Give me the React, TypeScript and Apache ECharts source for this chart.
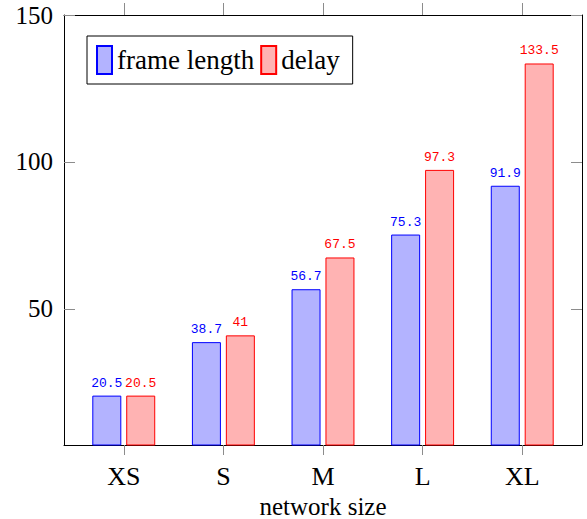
import React, { useEffect, useRef } from "react";
import * as echarts from "echarts";

const categories = ["XS", "S", "M", "L", "XL"];
const frameLength = [20.5, 38.7, 56.7, 75.3, 91.9];
const delay = [20.5, 41, 67.5, 97.3, 133.5];
const yTicks = [50, 100, 150];

const SERIF = "'Liberation Serif', 'DejaVu Serif', serif";
const MONO = "'Liberation Mono', 'DejaVu Sans Mono', monospace";

export default function App() {
  const ref = useRef<HTMLDivElement>(null);
  useEffect(() => {
    const chart = echarts.init(ref.current!, null, { renderer: "svg" });
    const idx = categories.map((_, i) => i);
    const tickColor = "#8c8c8c";
    chart.setOption({
      animation: false,
      grid: { left: 64, right: 5, top: 15, bottom: 74, containLabel: false, outerBoundsMode: "none" },
      legend: {
        left: 87,
        top: 36,
        orient: "horizontal",
        itemWidth: 15,
        itemHeight: 28,
        itemGap: 6,
        padding: [9, 13, 9, 9],
        borderColor: "#000",
        borderWidth: 1,
        icon: "rect",
        textStyle: { fontFamily: SERIF, fontSize: 27, color: "#000" },
        data: ["frame length", "delay"],
      },
      xAxis: [
        {
          type: "value",
          min: -0.6,
          max: 4.6,
          position: "bottom",
          name: "network size",
          nameLocation: "middle",
          nameGap: 42,
          nameTextStyle: { fontFamily: SERIF, fontSize: 25, lineHeight: 24, color: "#000" },
          axisLine: { show: true, onZero: false, lineStyle: { color: "#000", width: 1 } },
          axisTick: { show: true, inside: false, length: 10, customValues: idx, lineStyle: { color: tickColor } },
          axisLabel: {
            show: true,
            customValues: idx,
            margin: 18,
            fontFamily: SERIF,
            fontSize: 26,
            color: "#000",
            formatter: (v: number) => categories[Math.round(v)] ?? "",
          },
          splitLine: { show: false },
        },
        {
          type: "value",
          min: -0.6,
          max: 4.6,
          position: "top",
          axisLine: { show: true, onZero: false, lineStyle: { color: "#000", width: 1 } },
          axisTick: { show: true, inside: false, length: 12, customValues: idx, lineStyle: { color: tickColor } },
          axisLabel: { show: false },
          splitLine: { show: false },
        },
      ],
      yAxis: [
        {
          type: "value",
          min: 3.7,
          max: 150,
          position: "left",
          axisLine: { show: true, onZero: false, lineStyle: { color: "#000", width: 1 } },
          axisTick: { show: true, inside: true, length: 11, customValues: yTicks, lineStyle: { color: tickColor } },
          axisLabel: {
            show: true,
            customValues: yTicks,
            margin: 11,
            fontFamily: SERIF,
            fontSize: 25,
            color: "#000",
          },
          splitLine: { show: false },
        },
        {
          type: "value",
          min: 3.7,
          max: 150,
          position: "right",
          axisLine: { show: true, onZero: false, lineStyle: { color: "#000", width: 1 } },
          axisTick: { show: true, inside: true, length: 11, customValues: yTicks, lineStyle: { color: tickColor } },
          axisLabel: { show: false },
          splitLine: { show: false },
        },
      ],
      series: [
        {
          name: "frame length",
          type: "bar",
          xAxisIndex: 0,
          yAxisIndex: 0,
          barWidth: 29,
          barGap: "17%",
          data: frameLength.map((v, i) => [i, v]),
          itemStyle: { color: "#b3b3ff", borderColor: "#0000ff", borderWidth: 1 },
          label: {
            show: true,
            position: "top",
            distance: 6,
            color: "#0000ff",
            fontFamily: MONO,
            fontSize: 13,
            formatter: (p: any) => String(p.value[1]),
          },
        },
        {
          name: "delay",
          type: "bar",
          xAxisIndex: 0,
          yAxisIndex: 0,
          barWidth: 29,
          barGap: "17%",
          data: delay.map((v, i) => [i, v]),
          itemStyle: { color: "#ffb3b3", borderColor: "#ff0000", borderWidth: 1 },
          label: {
            show: true,
            position: "top",
            distance: 6,
            color: "#ff0000",
            fontFamily: MONO,
            fontSize: 13,
            formatter: (p: any) => String(p.value[1]),
          },
        },
      ],
    });
    return () => chart.dispose();
  }, []);
  return (
    <div
      ref={ref}
      style={{ position: "fixed", left: 0, top: 0, width: 587, height: 519, background: "#fff" }}
    />
  );
}
